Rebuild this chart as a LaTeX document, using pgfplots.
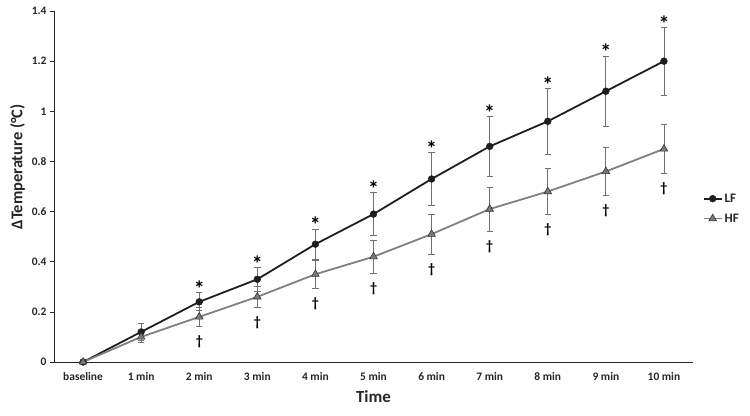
\documentclass[border=0pt]{standalone}
\usepackage{pgfplots}
\pgfplotsset{compat=1.18}
\usepackage{fontspec}
\setmainfont{Carlito}

\definecolor{lfline}{HTML}{1E1E1E}
\definecolor{hfline}{HTML}{808080}
\definecolor{hffill}{HTML}{7A7A7A}
\definecolor{errcol}{HTML}{707070}
\definecolor{txt}{HTML}{262626}

\begin{document}
\begin{tikzpicture}[x=1bp,y=1bp]
\path[use as bounding box] (0,0) rectangle (750,415);
\begin{axis}[
  at={(54bp,53bp)}, anchor=south west,
  scale only axis, width=639bp, height=351bp,
  xmin=-0.5, xmax=10.5, ymin=0, ymax=1.4,
  axis lines*=left,
  axis line style={line width=0.9pt, black!85},
  xtick={0,...,10},
  xticklabels={baseline,1 min,2 min,3 min,4 min,5 min,6 min,7 min,8 min,9 min,10 min},
  ytick={0,0.2,...,1.4},
  /pgf/number format/assume math mode=true,
  tick align=outside,
  major tick length=4bp,
  x tick style={draw=none},
  y tick style={black!85, line width=0.6pt},
  ticklabel style={font=\fontsize{11.5}{13}\selectfont\bfseries, text=txt},
  xticklabel style={yshift=-3bp},
  xlabel={Time}, ylabel={ΔTemperature (°C)},
  every axis x label/.style={at={(0.5,-0.1)}, anchor=center, font=\fontsize{17}{19}\selectfont\bfseries, text=txt},
  every axis y label/.style={at={(-0.057,0.556)}, anchor=center, rotate=90, font=\fontsize{16.5}{19}\selectfont\bfseries, text=txt},
  legend style={at={(1.015,0.437)}, anchor=west, draw=none, fill=none,
    font=\fontsize{13}{15}\selectfont\bfseries, text=txt, row sep=6bp,
    legend cell align=left, inner sep=0pt},
  legend image code/.code={
    \draw[#1] (0bp,0bp) -- (18bp,0bp);
    \draw[#1, mark repeat=2, mark phase=2] plot coordinates {(0bp,0bp) (9bp,0bp) (18bp,0bp)};
  },
  clip=false,
]
% LF: mean change with error bars
\addplot[lfline, line width=1.8pt, mark=*, mark size=3.4pt,
  mark options={fill=lfline, draw=lfline, line width=0.5pt},
  error bars/.cd, y dir=both, y explicit,
  error bar style={errcol, line width=0.8pt},
  error mark options={errcol, rotate=90, mark size=3.2pt, line width=0.8pt}]
  table[x=x, y=y, y error=e] {
x y e
0 0 0
1 0.12 0.035
2 0.24 0.036
3 0.33 0.048
4 0.47 0.06
5 0.59 0.087
6 0.73 0.105
7 0.86 0.12
8 0.96 0.13
9 1.08 0.14
10 1.20 0.135
};
\addlegendentry{LF}
% HF: mean change with error bars
\addplot[hfline, line width=1.8pt, mark=triangle*, mark size=4.4pt,
  mark options={fill=hffill, draw=black!80, line width=0.6pt},
  error bars/.cd, y dir=both, y explicit,
  error bar style={errcol, line width=0.8pt},
  error mark options={errcol, rotate=90, mark size=3.2pt, line width=0.8pt}]
  table[x=x, y=y, y error=e] {
x y e
0 0 0
1 0.10 0.02
2 0.18 0.037
3 0.26 0.043
4 0.35 0.057
5 0.42 0.066
6 0.51 0.079
7 0.61 0.088
8 0.68 0.092
9 0.76 0.096
10 0.85 0.096
};
\addlegendentry{HF}
% significance markers: * above LF bars, dagger below HF bars
\addplot[forget plot, draw=none, mark=none,
  nodes near coords={\bfseries *},
  nodes near coords style={anchor=south, inner sep=0pt, yshift=-4bp, font=\fontsize{22}{22}\selectfont, text=black}]
  coordinates {(2,0.276) (3,0.378) (4,0.53) (5,0.677) (6,0.835) (7,0.98) (8,1.09) (9,1.22) (10,1.335)};
\addplot[forget plot, draw=none, mark=none,
  nodes near coords={\bfseries †},
  nodes near coords style={anchor=north, inner sep=0pt, yshift=-9bp, font=\fontsize{14}{14}\selectfont, text=black}]
  coordinates {(2,0.143) (3,0.217) (4,0.293) (5,0.354) (6,0.431) (7,0.522) (8,0.588) (9,0.664) (10,0.754)};
\end{axis}
\end{tikzpicture}
\end{document}
